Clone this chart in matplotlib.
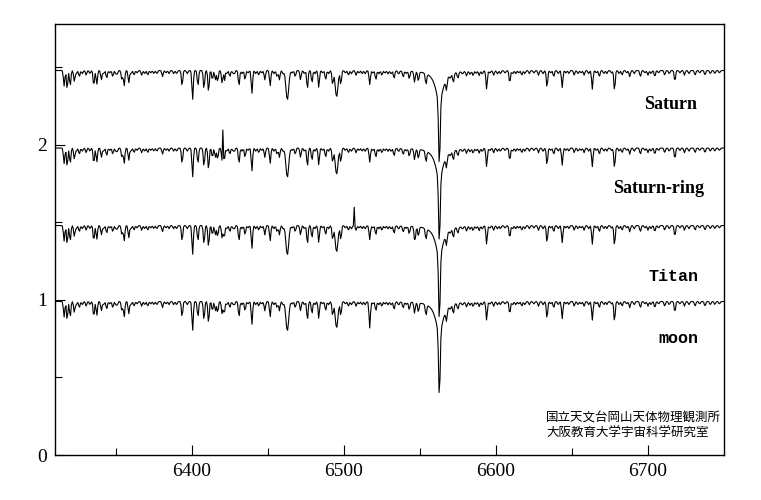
import numpy as np
import matplotlib
matplotlib.use("Agg")
import matplotlib.pyplot as plt

# ---- data ----
series_names = ["Saturn", "Saturn-ring", "Titan", "moon"]
continuum_levels = [2.48, 1.98, 1.48, 0.99]

# shared absorption lines (wavelength [A], depth)
line_wave = [6316.0, 6318.0, 6320.0, 6322.7, 6326.0, 6330.5, 6333.0, 6335.5, 6337.5, 6340.5,
             6344.0, 6348.0, 6351.0, 6354.0, 6355.5, 6358.5, 6362.0, 6367.0, 6371.0, 6375.0,
             6380.7, 6385.0, 6388.0, 6393.6, 6400.5, 6404.0, 6408.0, 6411.0, 6413.5, 6415.5,
             6417.0, 6419.9, 6421.3, 6425.0, 6428.0, 6431.0, 6435.0, 6439.5, 6444.0, 6448.0,
             6451.5, 6456.0, 6457.6, 6462.8, 6468.0, 6471.5, 6476.0, 6479.0, 6483.5, 6488.0,
             6492.6, 6495.2, 6498.0, 6503.0, 6508.0, 6512.0, 6517.0, 6521.0, 6525.0, 6529.0,
             6533.0, 6539.0, 6543.0, 6546.5, 6549.0, 6554.0, 6567.5, 6572.0, 6575.0, 6580.7,
             6585.0, 6589.0, 6593.9, 6598.5, 6603.0, 6609.1, 6613.0, 6617.0, 6622.0, 6628.0,
             6633.6, 6638.0, 6643.6, 6648.0, 6651.5, 6658.0, 6663.4, 6668.0, 6673.0, 6678.0,
             6683.0, 6688.0, 6695.0, 6700.0, 6704.5, 6711.0, 6717.7, 6724.0, 6731.0, 6737.5,
             6744.0]
line_depth = [0.10, 0.12, 0.10, 0.07, 0.04, 0.03, 0.02, 0.10, 0.09, 0.06,
              0.05, 0.04, 0.02, 0.06, 0.10, 0.08, 0.03, 0.03, 0.03, 0.02,
              0.04, 0.02, 0.02, 0.10, 0.19, 0.10, 0.12, 0.14, 0.06, 0.06,
              0.07, 0.08, 0.08, 0.04, 0.02, 0.10, 0.06, 0.15, 0.03, 0.06,
              0.10, 0.04, 0.06, 0.19, 0.04, 0.06, 0.12, 0.08, 0.11, 0.06,
              0.09, 0.17, 0.09, 0.03, 0.03, 0.02, 0.09, 0.06, 0.03, 0.02,
              0.05, 0.04, 0.05, 0.07, 0.06, 0.07, 0.07, 0.06, 0.04, 0.03,
              0.03, 0.03, 0.12, 0.03, 0.02, 0.08, 0.02, 0.03, 0.02, 0.03,
              0.11, 0.04, 0.11, 0.02, 0.03, 0.03, 0.12, 0.04, 0.02, 0.13,
              0.03, 0.04, 0.04, 0.03, 0.04, 0.03, 0.07, 0.03, 0.03, 0.03,
              0.02]
broad_lines = [6462.8, 6495.2]

# weak lines making the ragged continuum (wavelength, depth)
weak_wave = [6324, 6328, 6342, 6346, 6350, 6360, 6364, 6369, 6373, 6377, 6383, 6390, 6397,
             6423, 6427, 6433, 6437, 6442, 6446, 6454, 6460, 6466, 6474, 6481, 6486, 6490,
             6501, 6505, 6510, 6514, 6519, 6523, 6527, 6531, 6536, 6541, 6570, 6578, 6583,
             6587, 6591, 6596, 6601, 6606, 6611, 6615, 6619, 6625, 6631, 6636, 6641, 6646,
             6654, 6656, 6661, 6666, 6671, 6676, 6681, 6686, 6691, 6698, 6702, 6707, 6714,
             6721, 6727, 6734, 6741, 6747]
weak_depth = [0.02, 0.02, 0.02, 0.015, 0.02, 0.02, 0.015, 0.02, 0.015, 0.02, 0.015, 0.02, 0.02,
              0.02, 0.015, 0.02, 0.015, 0.02, 0.015, 0.02, 0.02, 0.015, 0.02, 0.02, 0.015, 0.02,
              0.015, 0.02, 0.015, 0.02, 0.015, 0.02, 0.015, 0.02, 0.02, 0.015, 0.02, 0.015, 0.02,
              0.015, 0.02, 0.015, 0.02, 0.015, 0.02, 0.015, 0.02, 0.015, 0.02, 0.015, 0.02, 0.015,
              0.02, 0.015, 0.02, 0.015, 0.02, 0.015, 0.02, 0.015, 0.02, 0.015, 0.02, 0.015, 0.02,
              0.015, 0.02, 0.015, 0.02, 0.015]

# H-alpha: narrow core + broad wings
halpha_center = 6562.8
halpha_core_depth = 0.42
halpha_wing_depth = 0.20

# extra lines specific to each series
extra_wave = {"Saturn": [], "Saturn-ring": [], "Titan": [6547.0], "moon": [6517.0]}
extra_depth = {"Saturn": [], "Saturn-ring": [], "Titan": [0.04], "moon": [0.08]}

# emission spikes (cosmic rays)
spike_wave = {"Saturn": [6421.0], "Saturn-ring": [6420.5], "Titan": [6506.6], "moon": []}
spike_height = {"Saturn": [0.04], "Saturn-ring": [0.17], "Titan": [0.12], "moon": []}

label_x = [6715, 6707, 6717, 6720]
label_y = [2.26, 1.72, 1.15, 0.75]

credit_lines = ["国立天文台岡山天体物理観測所", "大阪教育大学宇宙科学研究室"]

# ---- build spectra ----
wave = np.arange(6310.0, 6750.01, 0.6)


def gauss(w0, s):
    return np.exp(-0.5 * ((wave - w0) / s) ** 2)


def spectrum(level, name):
    flux = np.full_like(wave, level)
    for w, d in zip(line_wave, line_depth):
        s = 0.9 if w in broad_lines else 0.45
        flux -= d * gauss(w, s)
    for w, d in zip(weak_wave, weak_depth):
        flux -= d * gauss(w, 0.5)
    flux -= halpha_core_depth * gauss(halpha_center, 0.5)
    flux -= halpha_wing_depth / (1 + ((wave - halpha_center) / 3.0) ** 2)
    for w, d in zip(extra_wave[name], extra_depth[name]):
        flux -= d * gauss(w, 0.45)
    for w, h in zip(spike_wave[name], spike_height[name]):
        i = np.argmin(np.abs(wave - w))
        flux[i] += h
    return flux


fig = plt.figure(figsize=(7.61, 5.00), dpi=100)
ax = fig.add_axes([55 / 761, 45 / 500, (724 - 55) / 761, (455 - 24) / 500])

for name, lev in zip(series_names, continuum_levels):
    ax.plot(wave, spectrum(lev, name), color="black", lw=0.8)

ax.set_xlim(6310, 6750)
ax.set_ylim(0, 2.78)

serif = "Liberation Serif"
ax.set_xticks([6400, 6500, 6600, 6700])
ax.set_xticks([6350, 6450, 6550, 6650], minor=True)
ax.set_yticks([0, 1, 2])
ax.set_yticks([0.5, 1.5, 2.5], minor=True)
ax.tick_params(which="major", direction="in", length=7, width=0.8, labelsize=14, pad=6)
ax.tick_params(which="minor", direction="in", length=5, width=0.8)
for lab in ax.get_xticklabels() + ax.get_yticklabels():
    lab.set_fontfamily(serif)
for sp in ax.spines.values():
    sp.set_linewidth(1.0)

fonts = [serif, serif, "Liberation Mono", "Liberation Mono"]
sizes = [13, 13, 12, 12]
for name, x, y, f, s in zip(series_names, label_x, label_y, fonts, sizes):
    ax.text(x, y, name, ha="center", va="center", fontsize=s,
            fontweight="bold", family=f)

ax.text(0.734, 0.085, credit_lines[0], transform=ax.transAxes, fontsize=9,
        family=["Noto Sans CJK JP", "DejaVu Sans"], ha="left", va="center")
ax.text(0.734, 0.051, credit_lines[1], transform=ax.transAxes, fontsize=9,
        family=["Noto Sans CJK JP", "DejaVu Sans"], ha="left", va="center")

fig.savefig("out.png", dpi=100)
